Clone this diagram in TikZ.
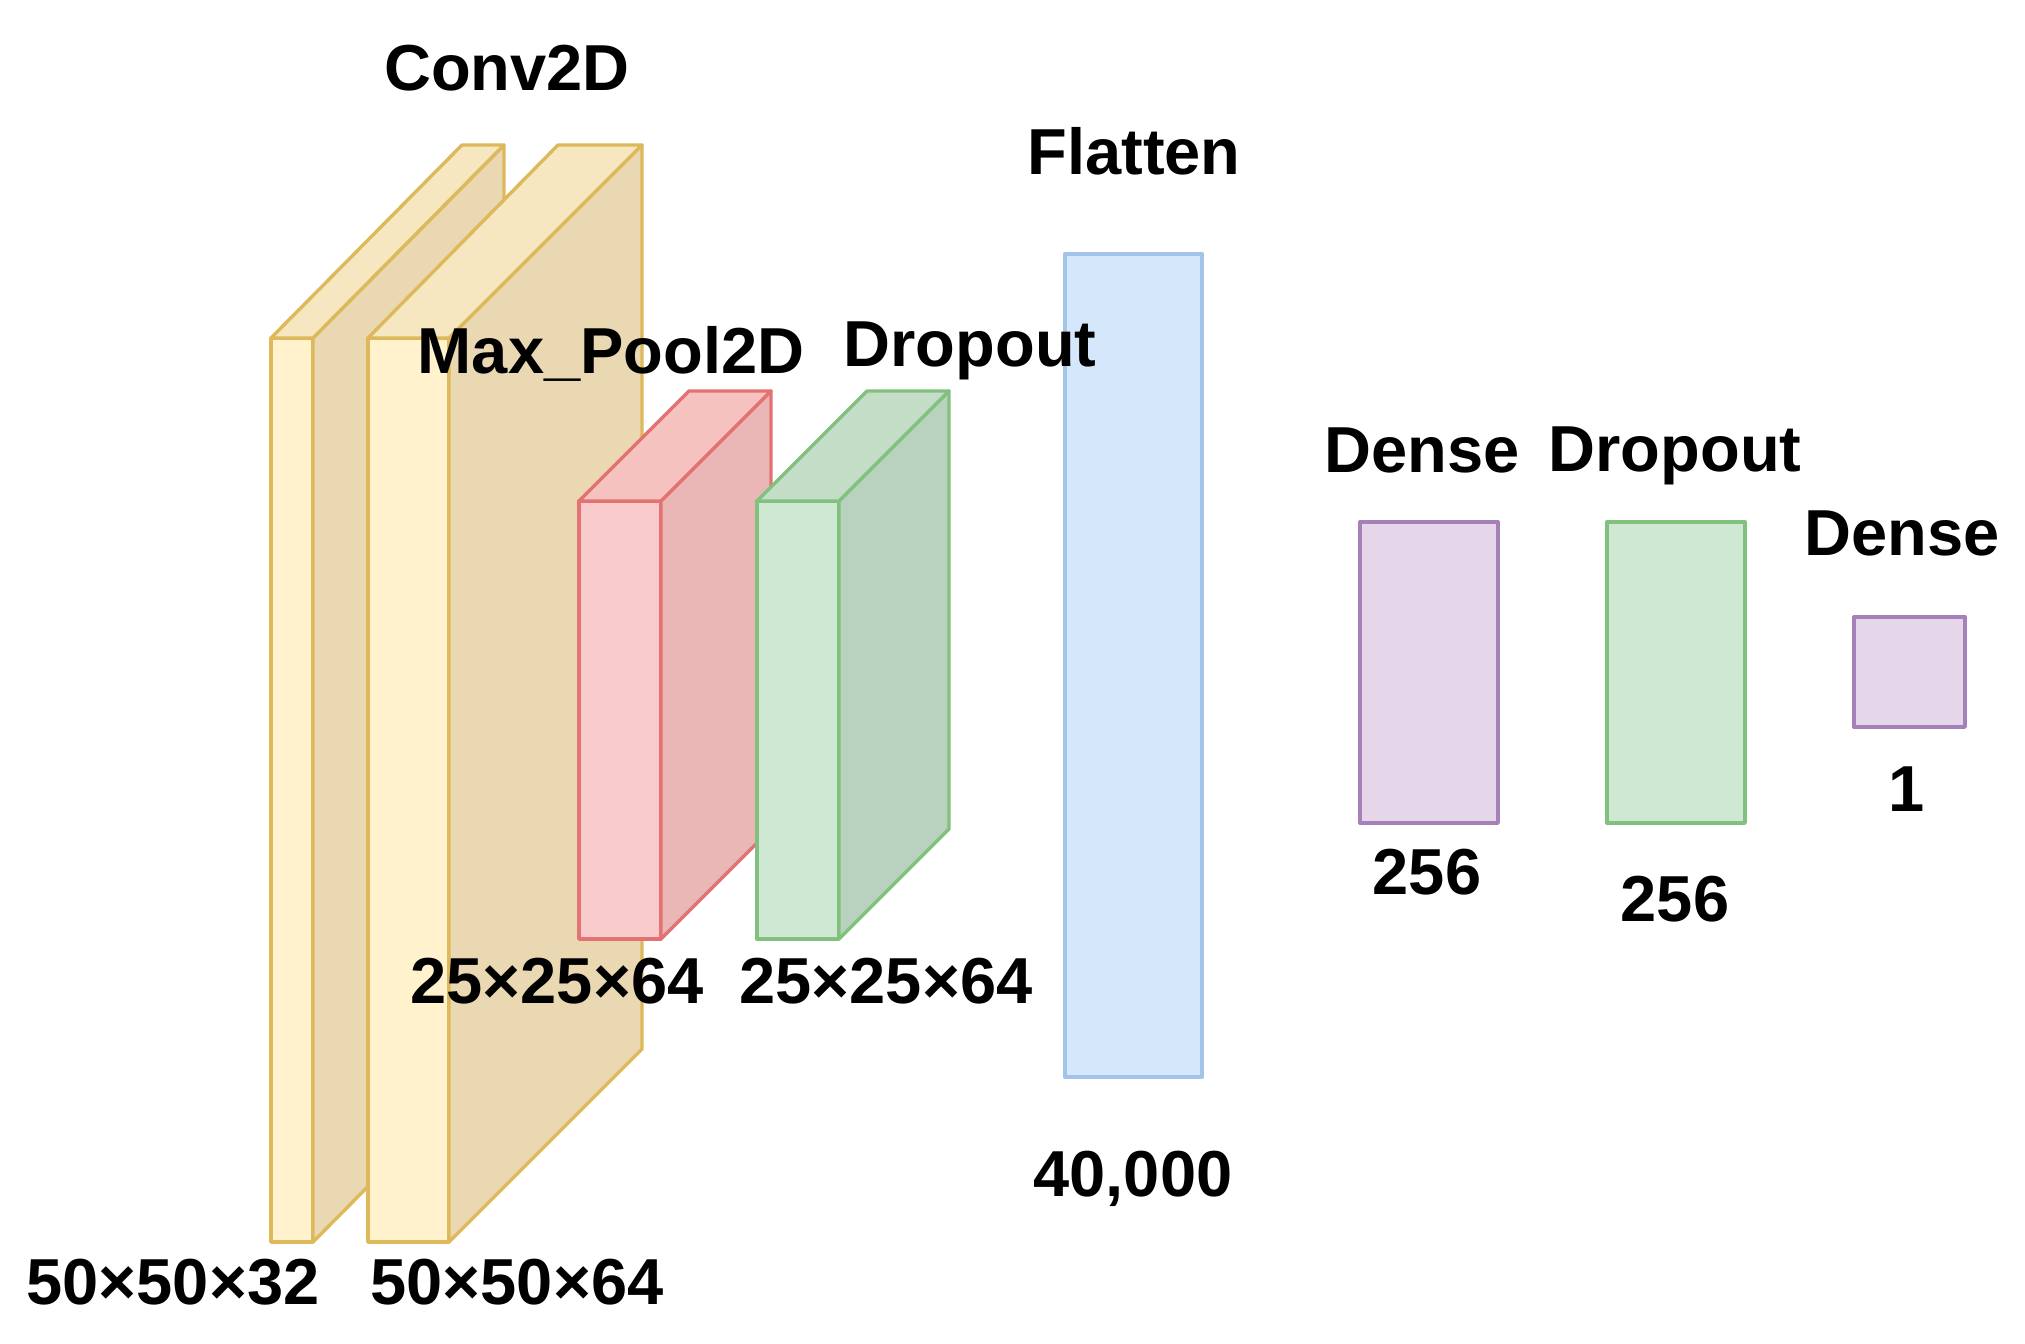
\documentclass[tikz,border=0pt]{standalone}
\usepackage{fontspec}
\setmainfont{Liberation Sans}
\definecolor{yfront}{HTML}{FFF2CC}
\definecolor{ytop}{HTML}{F6E7C1}
\definecolor{yside}{HTML}{E9D8B1}
\definecolor{ystroke}{HTML}{DDB95C}
\definecolor{rfront}{HTML}{F9CCCB}
\definecolor{rtop}{HTML}{F5C2C0}
\definecolor{rside}{HTML}{EBB7B6}
\definecolor{rstroke}{HTML}{E27372}
\definecolor{gfront}{HTML}{CFE8D3}
\definecolor{gtop}{HTML}{C4DDC6}
\definecolor{gside}{HTML}{B9D2BF}
\definecolor{gstroke}{HTML}{82C07E}
\definecolor{bfill}{HTML}{D5E8FB}
\definecolor{bstroke}{HTML}{A3C3E8}
\definecolor{pfill}{HTML}{E6D6E9}
\definecolor{pstroke}{HTML}{A680B8}
\begin{document}
\begin{tikzpicture}[x=0.5pt,y=-0.5pt,line join=round,
  lw/.style={line width=1.7pt},
  face/.style={inner sep=0pt,outer sep=0pt,anchor=north west,lw},
  yface/.style={face,fill=yfront,draw=ystroke},
  rface/.style={face,fill=rfront,draw=rstroke},
  gface/.style={face,fill=gfront,draw=gstroke},
  bface/.style={face,fill=bfill,draw=bstroke},
  pface/.style={face,fill=pfill,draw=pstroke},
  gflat/.style={face,fill=gfront,draw=gstroke},
  lbl/.style={font=\fontsize{32.5}{36}\selectfont\bfseries,inner sep=0pt,anchor=base}]
\useasboundingbox (0,0) rectangle (2025,1344);

% Conv2D 1
\node[yface,minimum width=21pt,minimum height=452pt] (c1) at (271,338) {};
\filldraw[fill=yside,draw=ystroke,lw] (c1.north east) -- ++(191,-193) -- ++(0,904) -- (c1.south east) -- cycle;
\filldraw[fill=ytop,draw=ystroke,lw] (c1.north west) -- ++(191,-193) -- ++(42,0) -- (c1.north east) -- cycle;

% Conv2D 2
\node[yface,minimum width=40.5pt,minimum height=452pt] (c2) at (368,338) {};
\filldraw[fill=yside,draw=ystroke,lw] (c2.north east) -- ++(193,-193) -- ++(0,904) -- (c2.south east) -- cycle;
\filldraw[fill=ytop,draw=ystroke,lw] (c2.north west) -- ++(190,-193) -- ++(84,0) -- (c2.north east) -- cycle;

% Max pool
\node[rface,minimum width=41pt,minimum height=219pt] (mp) at (579,501) {};
\filldraw[fill=rside,draw=rstroke,lw] (mp.north east) -- ++(110,-110) -- ++(0,438) -- (mp.south east) -- cycle;
\filldraw[fill=rtop,draw=rstroke,lw] (mp.north west) -- ++(110,-110) -- ++(82,0) -- (mp.north east) -- cycle;

% Dropout 1
\node[gface,minimum width=41pt,minimum height=219pt] (d1) at (757,501) {};
\filldraw[fill=gside,draw=gstroke,lw] (d1.north east) -- ++(110,-110) -- ++(0,438) -- (d1.south east) -- cycle;
\filldraw[fill=gtop,draw=gstroke,lw] (d1.north west) -- ++(110,-110) -- ++(82,0) -- (d1.north east) -- cycle;

% Flatten
\node[bface,line width=2.2pt,minimum width=68.5pt,minimum height=411.5pt] (fl) at (1065,254) {};
% Dense 256
\node[pface,minimum width=69pt,minimum height=150.5pt] (de1) at (1360,522) {};
% Dropout 256
\node[gflat,minimum width=69pt,minimum height=150.5pt] (dr2) at (1607,522) {};
% Dense 1
\node[pface,minimum width=55.5pt,minimum height=55pt] (de2) at (1854,617) {};

% labels
\node[lbl] (tconv) at (507,90) {Conv2D};
\node[lbl] (tflat) at (1134,174) {Flatten};
\node[lbl] (tmp) at (611,373) {Max\_Pool2D};
\node[lbl] (tdr1) at (970,366) {Dropout};
\node[lbl] (tde1) at (1422,472) {Dense};
\node[lbl] (tdr2) at (1675,471) {Dropout};
\node[lbl] (tde2) at (1902,555) {Dense};
\node[lbl] (n1) at (1907,811) {1};
\node[lbl] (n256a) at (1427,894) {256};
\node[lbl] (n256b) at (1675,921) {256};
\node[lbl] (n40k) at (1133,1196) {40,000};
\node[lbl] (nmp) at (557,1003) {25×25×64};
\node[lbl] (ndr) at (886,1003) {25×25×64};
\node[lbl] (nc1) at (173,1304) {50×50×32};
\node[lbl] (nc2) at (517,1304) {50×50×64};
\end{tikzpicture}
\end{document}
